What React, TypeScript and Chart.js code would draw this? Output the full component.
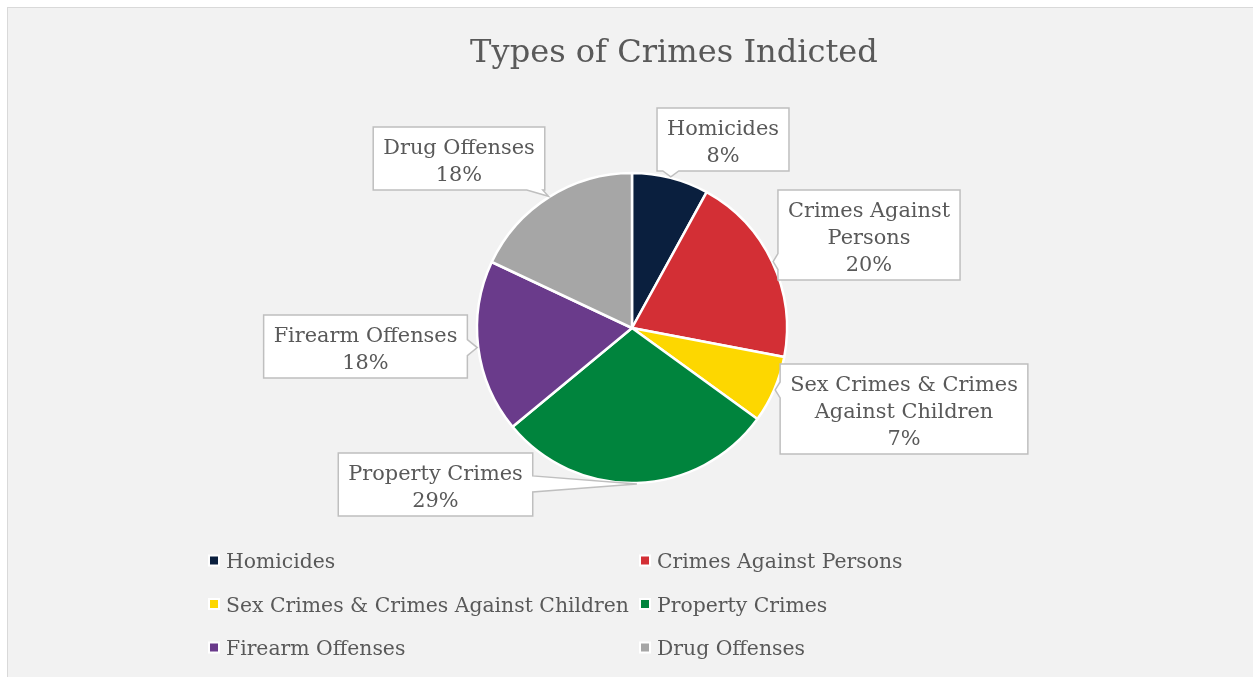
import React, { useEffect, useRef } from "react";
import { Chart, registerables } from "chart.js";

Chart.register(...registerables);

// ---- data ----
const chartTitle = "Types of Crimes Indicted";
const categories = [
  "Homicides",
  "Crimes Against Persons",
  "Sex Crimes & Crimes Against Children",
  "Property Crimes",
  "Firearm Offenses",
  "Drug Offenses",
];
const shares = [8, 20, 7, 29, 18, 18];
const sliceColors = ["#0a1f3e", "#d32f35", "#fdd700", "#00843d", "#6a3b8b", "#a6a6a6"];

// ---- layout (canvas px) ----
const CANVAS_W = 1245;
const CANVAS_H = 669;
const TEXT_COLOR = "#595959";
const FAMILY = '"DejaVu Serif", Georgia, serif';
// callout boxes: [centerX, topY]
const calloutBoxes = [
  [715, 100],
  [861, 182],
  [896, 356],
  [427.5, 445],
  [357.5, 307],
  [451, 119],
];
const legendCols = [206, 637];
const legendRows = [560, 603.5, 647];

function fitSize(ctx: CanvasRenderingContext2D, text: string, target: number) {
  ctx.font = `100px ${FAMILY}`;
  const w = ctx.measureText(text).width;
  return (100 * target) / w;
}

function wrap(ctx: CanvasRenderingContext2D, text: string, maxW: number) {
  const words = text.split(" ");
  const lines: string[] = [];
  let cur = "";
  for (const w of words) {
    const t = cur ? cur + " " + w : w;
    if (cur && ctx.measureText(t).width > maxW) {
      lines.push(cur);
      cur = w;
    } else cur = t;
  }
  if (cur) lines.push(cur);
  return lines;
}

const overlayPlugin = {
  id: "overlay",
  afterDraw(chart: any) {
    const ctx: CanvasRenderingContext2D = chart.ctx;
    const meta = chart.getDatasetMeta(0);
    const total = shares.reduce((a, b) => a + b, 0);
    ctx.save();
    const labelSize = fitSize(ctx, "Homicides", 112);
    const legendSize = Math.min(labelSize, fitSize(ctx, categories[2], 403));
    const titleSize = fitSize(ctx, chartTitle, 408);

    // title
    ctx.font = `${titleSize}px ${FAMILY}`;
    ctx.fillStyle = TEXT_COLOR;
    ctx.textAlign = "center";
    ctx.textBaseline = "alphabetic";
    ctx.fillText(chartTitle, 666, 53.5);

    // callouts
    ctx.font = `${labelSize}px ${FAMILY}`;
    meta.data.forEach((arc: any, i: number) => {
      const p = arc.getProps(["x", "y", "startAngle", "endAngle", "outerRadius"], true);
      const mid = (p.startAngle + p.endAngle) / 2;
      const tip = {
        x: p.x + Math.cos(mid) * (p.outerRadius + 1),
        y: p.y + Math.sin(mid) * (p.outerRadius + 1),
      };
      const pct = Math.round((shares[i] / total) * 100) + "%";
      const lines = wrap(ctx, categories[i], 228).concat([pct]);
      const maxW = Math.max(...lines.map((l) => ctx.measureText(l).width));
      const bw = maxW + 20;
      const bh = lines.length * 27 + 9;
      const [cx, top] = calloutBoxes[i];
      const l = cx - bw / 2, r = cx + bw / 2, t = top, b = top + bh;

      // choose wedge edge
      const outL = l - tip.x, outR = tip.x - r, outT = t - tip.y, outB = tip.y - b;
      const m = Math.max(outL, outR, outT, outB);
      const hw = 8;
      const clamp = (v: number, a: number, z: number) => Math.max(a, Math.min(z, v));
      ctx.beginPath();
      ctx.moveTo(l, t);
      if (m > 0 && m === outT) {
        const c = clamp(tip.x, l + hw + 2, r - hw - 2);
        ctx.lineTo(c - hw, t); ctx.lineTo(tip.x, tip.y); ctx.lineTo(c + hw, t);
      }
      ctx.lineTo(r, t);
      if (m > 0 && m === outR) {
        const c = clamp(tip.y, t + hw + 2, b - hw - 2);
        ctx.lineTo(r, c - hw); ctx.lineTo(tip.x, tip.y); ctx.lineTo(r, c + hw);
      }
      ctx.lineTo(r, b);
      if (m > 0 && m === outB) {
        const c = clamp(tip.x, l + hw + 2, r - hw - 2);
        ctx.lineTo(c + hw, b); ctx.lineTo(tip.x, tip.y); ctx.lineTo(c - hw, b);
      }
      ctx.lineTo(l, b);
      if (m > 0 && m === outL) {
        const c = clamp(tip.y, t + hw + 2, b - hw - 2);
        ctx.lineTo(l, c + hw); ctx.lineTo(tip.x, tip.y); ctx.lineTo(l, c - hw);
      }
      ctx.closePath();
      ctx.fillStyle = "#ffffff";
      ctx.fill();
      ctx.lineWidth = 1.5;
      ctx.strokeStyle = "#bfbfbf";
      ctx.lineJoin = "miter";
      ctx.stroke();

      ctx.fillStyle = TEXT_COLOR;
      ctx.textAlign = "center";
      ctx.textBaseline = "alphabetic";
      lines.forEach((ln, k) => ctx.fillText(ln, cx, t + 27 * (k + 1)));
    });

    // legend (two columns)
    ctx.font = `${legendSize}px ${FAMILY}`;
    ctx.textAlign = "left";
    categories.forEach((name, i) => {
      const col = i % 2;
      const row = Math.floor(i / 2);
      const sx = legendCols[col];
      const by = legendRows[row];
      const sy = by - 7.5;
      ctx.fillStyle = "#ffffff";
      ctx.fillRect(sx - 6, sy - 6, 12, 12);
      ctx.fillStyle = sliceColors[i];
      ctx.fillRect(sx - 4, sy - 4, 8, 8);
      ctx.fillStyle = TEXT_COLOR;
      ctx.fillText(name, sx + 12, by);
    });
    ctx.restore();
  },
};

export default function App() {
  const ref = useRef<HTMLCanvasElement | null>(null);
  useEffect(() => {
    document.body.style.overflow = "hidden";
    if (!ref.current) return;
    const chart = new Chart(ref.current, {
      type: "pie",
      data: {
        labels: categories,
        datasets: [
          {
            data: shares,
            backgroundColor: sliceColors,
            borderColor: "#ffffff",
            borderWidth: 2.5,
            radius: 155,
          } as any,
        ],
      },
      options: {
        responsive: false,
        animation: false,
        events: [],
        layout: { padding: { left: 3, right: 0, top: 100, bottom: 129 } },
        plugins: {
          legend: { display: false },
          title: { display: false },
          tooltip: { enabled: false },
        },
      },
      plugins: [overlayPlugin],
    });
    return () => chart.destroy();
  }, []);
  return (
    <div
      style={{
        position: "absolute",
        left: 7,
        top: 7,
        width: CANVAS_W,
        height: CANVAS_H,
        borderLeft: "1px solid #d9d9d9",
        borderTop: "1px solid #d9d9d9",
        background: "#f2f2f2",
      }}
    >
      <canvas ref={ref} width={CANVAS_W} height={CANVAS_H} style={{ display: "block" }} />
    </div>
  );
}
